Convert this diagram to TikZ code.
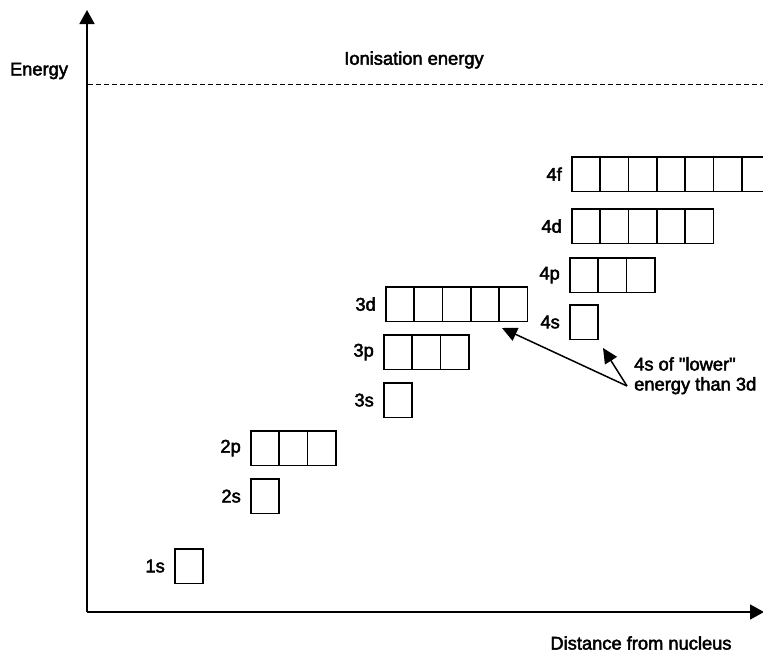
\documentclass[tikz,border=0pt]{standalone}
\usepackage{fontspec}
\newfontfamily\lbfont{Liberation Sans}[FakeBold=2.5]
\usetikzlibrary{arrows.meta}
\begin{document}
\begin{tikzpicture}[x=1pt,y=-1pt,
  orb/.style={draw,line width=1.7pt,rectangle,minimum width=28.3pt,minimum height=34.5pt,inner sep=0pt,anchor=north west},
  lbl/.style={font=\lbfont\fontsize{18.3}{21}\selectfont,inner sep=0pt},
  axis/.style={line width=1.7pt,-{Triangle[length=14pt,width=15pt]}},
  pointer/.style={line width=1.5pt,-{Triangle[length=15pt,width=14pt]}}]
\useasboundingbox (0,0) rectangle (763,654);
% axes
\coordinate (O) at (87,612);
\coordinate (ytop) at (87,10);
\coordinate (xend) at (764,612);
\draw[axis] (O) -- (ytop);
\draw[axis] (O) -- (xend);
\node[lbl] (energy) at (39,71) {Energy};
\node[lbl] (dist) at (641,643) {Distance from nucleus};
% ionisation
\coordinate (ion1) at (88,84);
\coordinate (ion2) at (763,84);
\draw[line width=0.8pt,dash pattern=on 4.5pt off 3.5pt] (ion1) -- (ion2);
\node[lbl] (ion) at (414,60) {Ionisation energy};
% orbitals: name/x/y/count
\foreach \n/\x/\y/\c in {1s/174/548/1, 2s/250/478/1, 2p/250/430/3, 3s/383/382/1, 3p/383/334/3, 3d/385/286/5, 4s/569/304/1, 4p/569/257/3, 4d/571/208/5, 4f/571/156/7}{
  \foreach \i in {1,...,\c}{
    \node[orb] (b\n\i) at ({\x+(\i-1)*28.3},\y) {};
  }
  \node[lbl,anchor=east] (l\n) at ([xshift=-9pt]b\n1.west) {\n};
}
% note
\node[lbl,align=left,anchor=north west] (note) at (634,357) {4s of "lower"\\[-1pt]energy than 3d};
\coordinate (src) at (627,386);
\coordinate (t3d) at (502,328);
\coordinate (t4s) at (603,348);
\draw[pointer] (src) -- (t3d);
\draw[pointer] (src) -- (t4s);
\end{tikzpicture}
\end{document}
